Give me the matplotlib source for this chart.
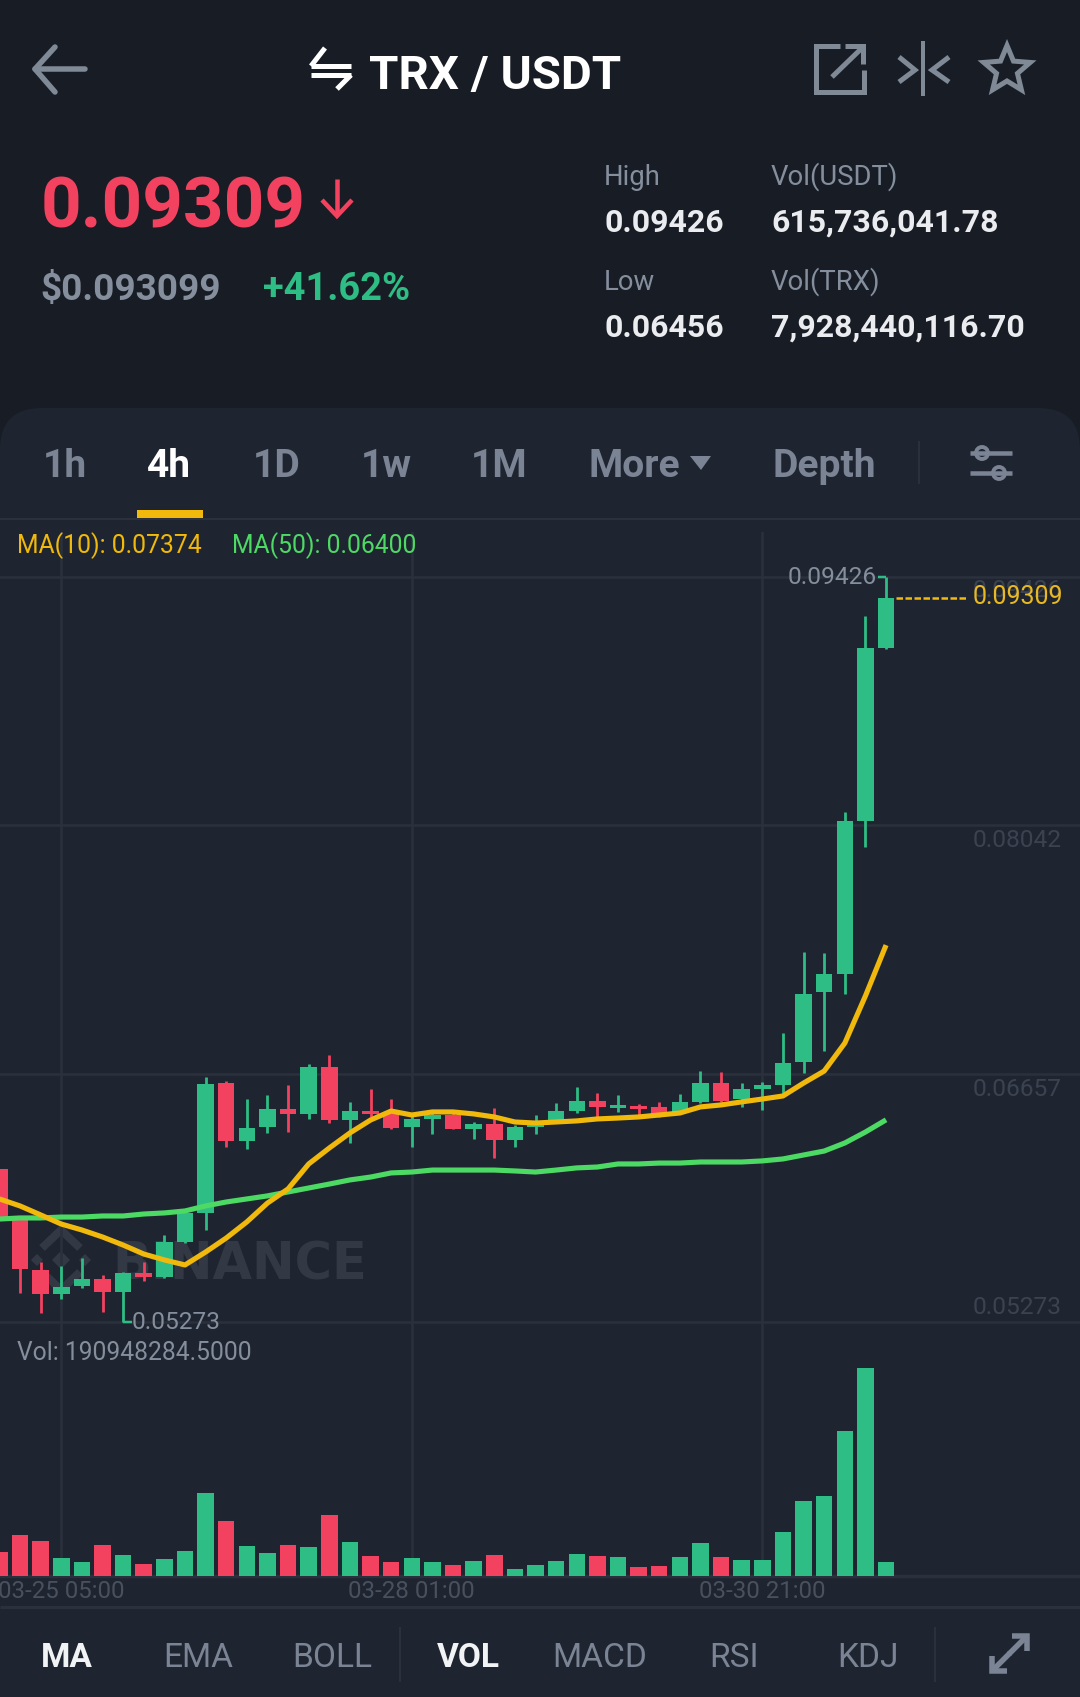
import numpy as np
import matplotlib
matplotlib.use("Agg")
import matplotlib.pyplot as plt
from matplotlib.patches import FancyBboxPatch, Polygon, Circle, Rectangle

# ---------- data ----------
opens = [.06126,.05858,.05563,.05429,.05474,.05513,.05440,.05546,.05524,.05719,.05881,
         .06605,.06282,.06360,.06460,.06433,.06695,.06399,.06449,.06438,.06360,.06405,
         .06427,.06349,.06377,.06288,.06360,.06399,.06449,.06505,.06466,.06477,.06472,
         .06444,.06500,.06605,.06516,.06572,.06594,.06723,.07113,.07213,.08066,.09031]
closes = [.05858,.05569,.05429,.05468,.05513,.05440,.05546,.05524,.05719,.05881,.06600,
          .06282,.06355,.06460,.06433,.06695,.06399,.06449,.06433,.06355,.06405,.06427,
          .06349,.06377,.06288,.06360,.06377,.06449,.06505,.06472,.06483,.06460,.06427,
          .06500,.06605,.06505,.06572,.06594,.06717,.07102,.07213,.08066,.09031,.09309]
highs = [.06126,.05858,.05608,.05585,.05630,.05535,.05552,.05608,.05758,.05881,.06639,
         .06617,.06516,.06539,.06594,.06711,.06762,.06500,.06572,.06516,.06438,.06444,
         .06438,.06388,.06466,.06371,.06427,.06494,.06583,.06550,.06539,.06488,.06500,
         .06544,.06672,.06667,.06605,.06611,.06884,.07336,.07330,.08116,.09209,.09426]
lows = [.05858,.05435,.05323,.05401,.05463,.05329,.05273,.05502,.05518,.05713,.05786,
        .06249,.06238,.06327,.06332,.06405,.06382,.06271,.06416,.06349,.06249,.06321,
        .06349,.06293,.06187,.06249,.06321,.06388,.06438,.06416,.06444,.06427,.06416,
        .06438,.06494,.06500,.06472,.06455,.06550,.06661,.06784,.07102,.07921,.09025]
ma10 = [.05959,.05920,.05870,.05819,.05786,.05747,.05702,.05652,.05619,.05591,.05663,
        .05741,.05831,.05936,.06015,.06154,.06243,.06327,.06399,.06449,.06427,.06444,
        .06444,.06433,.06416,.06388,.06382,.06388,.06394,.06405,.06410,.06416,.06427,
        .06438,.06472,.06483,.06500,.06516,.06533,.06605,.06672,.06828,.07091,.07374]
ma50 = [.05847,.05853,.05853,.05858,.05858,.05864,.05864,.05875,.05881,.05892,.05920,
        .05942,.05959,.05976,.05998,.06020,.06042,.06065,.06081,.06104,.06109,.06120,
        .06120,.06120,.06120,.06115,.06109,.06120,.06132,.06137,.06154,.06154,.06159,
        .06159,.06165,.06165,.06165,.06171,.06182,.06204,.06226,.06271,.06332,.06400]
volumes_m = [320,546,466,235,186,413,280,164,222,333,1101,728,404,306,417,391,813,453,
             266,186,240,186,142,204,284,98,147,200,289,262,249,115,133,249,444,253,
             209,213,591,999,1070,1927,2771,191]
price_levels = [.09426,.08042,.06657,.05273]
price_labels = ["0.09426","0.08042","0.06657","0.05273"]
date_ticks = [3,20,37]
date_labels = ["03-25 05:00","03-28 01:00","03-30 21:00"]
period_tabs = ["1h","4h","1D","1w","1M","More","Depth"]
indicator_tabs = ["MA","EMA","BOLL","VOL","MACD","RSI","KDJ"]

# ---------- colours ----------
BG="#181c25"; PANEL="#1f2530"; GRID="#2b313c"; GREY="#848e9c"; TAB="#7b8494"
DIM="#3c4350"; RED="#f3425f"; GREEN="#2ebd85"; YEL="#f0b90b"; MAG="#4cd964"; ICON="#7f8a96"
FONT="Roboto"

W,H=1080,1697
fig=plt.figure(figsize=(W/100,H/100),dpi=100,facecolor=BG)
def axpx(x0,y0,x1,y1,z):
    a=fig.add_axes([x0/W,1-y1/H,(x1-x0)/W,(y1-y0)/H],zorder=z)
    a.patch.set_alpha(0)
    return a

ui=axpx(0,0,W,H,0); ui.set_xlim(0,W); ui.set_ylim(H,0); ui.axis("off")
top=axpx(0,0,W,H,5); top.set_xlim(0,W); top.set_ylim(H,0); top.axis("off")

def T(ax,x,y,s,px,color,weight="normal",ha="left",va="baseline",family=FONT,**k):
    return ax.text(x,y,s,fontsize=px*0.72,color=color,fontweight=weight,ha=ha,va=va,family=family,**k)
def L(ax,xs,ys,color,lwpx,cap="round",join="round",**k):
    ax.plot(xs,ys,color=color,lw=lwpx*0.72,solid_capstyle=cap,solid_joinstyle=join,**k)

# panel
ui.add_patch(FancyBboxPatch((0,408),W,1400,boxstyle="round,pad=0,rounding_size=42",fc=PANEL,ec="none"))
L(ui,[0,W],[519,519],GRID,2,"butt")
L(ui,[0,W],[1607,1607],GRID,3,"butt")

# header
L(top,[85,35],[69,69],ICON,5.5)
L(top,[55,35,55],[47,69,92],ICON,5.5)
L(top,[311,351],[66,66],"#ffffff",5,"butt"); L(top,[311,325],[66,48],"#ffffff",5,"butt")
L(top,[311,351],[75,75],"#ffffff",5,"butt"); L(top,[351,337],[75,89],"#ffffff",5,"butt")
T(top,369,89,"TRX / USDT",47.5,"#ffffff","bold")
L(top,[840,816,816,864,864],[46,46,92,92,70],ICON,5,"butt","miter")
L(top,[832,863],[77,47],ICON,5,"butt"); L(top,[845,863,863],[46,46,64],ICON,5,"butt","miter")
L(top,[923,923],[41,96],ICON,4,"butt")
L(top,[899,915,899],[57,70,82],ICON,5,"butt","miter"); L(top,[949,932,949],[57,70,82],ICON,5,"butt","miter")
ang=np.deg2rad(np.arange(10)*36-90); rad=np.where(np.arange(10)%2==0,24.5,11)
top.add_patch(Polygon(np.c_[1007+rad*np.cos(ang),70+rad*np.sin(ang)],closed=True,fc="none",ec=ICON,lw=3.6,joinstyle="miter"))

T(top,41,227,"0.09309",71,RED,"bold")
L(top,[337,337],[179,215],RED,4.5,"butt"); L(top,[322,337,352],[200,216,200],RED,4.5,"butt","miter")
T(top,40,300,"$0.093099",37,GREY,"bold")
T(top,263,300,"+41.62%",38,GREEN,"bold")
T(top,604,185,"High",27.5,GREY); T(top,771,185,"Vol(USDT)",27.5,GREY)
T(top,604,232,"0.09426",32,"#eaecef","bold"); T(top,771,232,"615,736,041.78",32,"#eaecef","bold")
T(top,604,290,"Low",27.5,GREY); T(top,771,290,"Vol(TRX)",27.5,GREY)
T(top,604,337,"0.06456",32,"#eaecef","bold"); T(top,771,337,"7,928,440,116.70",32,"#eaecef","bold")

# period tabs
for s,x in zip(period_tabs,[65,169,277,386,499,634,824]):
    T(top,x,477,s,39,"#ffffff" if s=="4h" else TAB,"bold",ha="center")
top.add_patch(Rectangle((137,510),66,8,fc=YEL,ec="none"))
top.add_patch(Polygon([(690,456),(711,456),(701,470)],closed=True,fc=TAB,ec="none"))
L(top,[919,919],[441,484],GRID,2,"butt")
L(top,[970,1012],[453,453],TAB,4.5,"butt"); L(top,[970,1012],[473,473],TAB,4.5,"butt")
top.add_patch(Circle((982,453),6,fc=PANEL,ec=TAB,lw=2.8)); top.add_patch(Circle((999,473),6,fc=PANEL,ec=TAB,lw=2.8))

# watermark
WM="#323844"
T(ui,112,1279,"BINANCE",51,WM,"bold",family="DejaVu Sans")
for cx,cy,r in [(61,1260,9),(37,1260,6),(85,1260,6)]:
    ui.add_patch(Polygon([(cx,cy-r),(cx+r,cy),(cx,cy+r),(cx-r,cy)],closed=True,fc=WM,ec="none"))
L(ui,[42,61,80],[1248,1230,1248],WM,8,"butt","miter"); L(ui,[42,61,80],[1272,1290,1272],WM,8,"butt","miter")

# price axes: y pixel <-> value mapping from the gridlines
per_px=(.09426-.05273)/(1322-577)
xlo,xhi=(0.6)/20.62,(W+0.6)/20.62
Y0,Y1=532,1340
pr=axpx(0,Y0,W,Y1,1)
pr.set_xlim(xlo,xhi)
pr.set_ylim(.05273-(Y1-1322)*per_px,.05273+(1322-Y0)*per_px)
pr.axis("off")
idx=np.arange(len(opens))
o,c,h,l=map(np.array,(opens,closes,highs,lows))
cols=[GREEN if b>a else RED for a,b in zip(o,c)]
for y in price_levels: pr.axhline(y,color=GRID,lw=1.8,zorder=1)
for x in date_ticks: pr.axvline(x,color=GRID,lw=1.8,zorder=1)
pr.vlines(idx,l,h,colors=cols,lw=2.0,zorder=3)
pr.bar(idx,np.abs(c-o),bottom=np.minimum(o,c),width=0.8,color=cols,zorder=3)
pr.plot(idx,ma50,color=MAG,lw=3.7,zorder=4,solid_capstyle="butt")
pr.plot(idx,ma10,color=YEL,lw=3.7,zorder=5,solid_capstyle="butt")

# volume axes
va=axpx(0,Y1,W,1576,1)
va.set_xlim(xlo,xhi); va.set_ylim(0,(1576-Y1)*13.32)
for sp in va.spines.values(): sp.set_visible(False)
va.set_yticks([])
va.set_xticks(date_ticks,date_labels,color="#4a515e",fontsize=17.3,family=FONT)
va.tick_params(axis="x",length=0,pad=3)
for x in date_ticks: va.axvline(x,color=GRID,lw=1.8,zorder=1)
va.axhline(0,color=GRID,lw=2.5,clip_on=False,zorder=1)
va.bar(idx,volumes_m,width=0.8,color=cols,zorder=3)

# chart labels
T(top,17,553,"MA(10): 0.07374",24.8,YEL); T(top,232,553,"MA(50): 0.06400",24.8,MAG)
T(top,877,584,"0.09426",24.5,GREY,ha="right")
L(top,[878,886],[577,577],GREEN,2.5,"butt")
T(top,973,597,price_labels[0],24.5,DIM)
T(top,973,847,price_labels[1],24.5,DIM)
T(top,973,1096,price_labels[2],24.5,DIM)
T(top,973,1314,price_labels[3],24.5,DIM)
top.plot([896,968],[598,598],color=YEL,lw=1.8,ls=(0,(2.6,1.0)))
T(top,973,604,"0.09309",25,"#e8b923")
L(top,[123,132],[1322,1322],GREEN,2.5,"butt")
T(top,132,1329,"0.05273",24.5,GREY)
T(top,17,1360,"Vol: 190948284.5000",24.6,GREY)

# indicator tabs
for s,x in zip(indicator_tabs,[67,198,332,468,600,734,868]):
    act=s in("MA","VOL")
    T(top,x,1667,s,33.5,"#f2f3f5" if act else TAB,"bold" if act else "normal",ha="center")
L(top,[400,400],[1627,1682],GRID,2,"butt"); L(top,[935,935],[1627,1682],GRID,2,"butt")
L(top,[1027,1009],[1636,1654],TAB,5.5,"butt"); L(top,[1012,1027,1027],[1636,1636,1651],TAB,5.5,"butt","miter")
L(top,[992,1010],[1671,1653],TAB,5.5,"butt"); L(top,[992,992,1007],[1656,1671,1671],TAB,5.5,"butt","miter")

fig.savefig("out.png",dpi=100,facecolor=BG)
